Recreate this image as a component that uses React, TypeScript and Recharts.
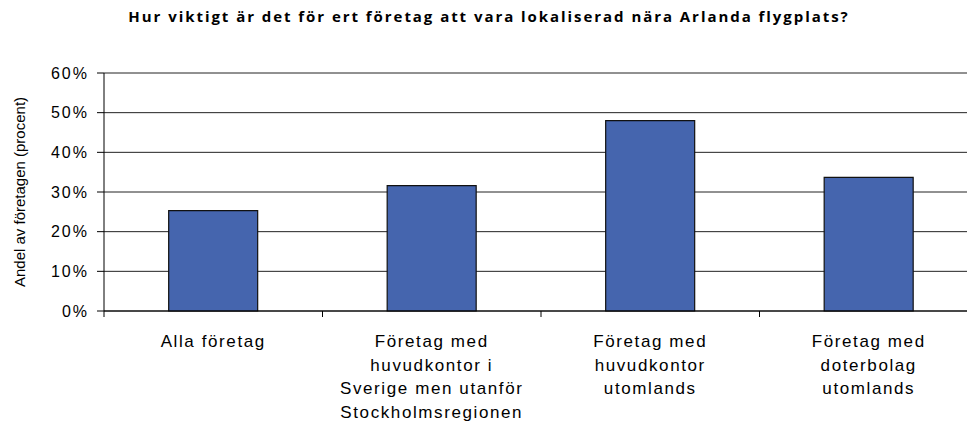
import React from "react";
import { BarChart, Bar, XAxis, YAxis, CartesianGrid } from "recharts";

const title = "Hur viktigt är det för ert företag att vara lokaliserad nära Arlanda flygplats?";
const yAxisTitle = "Andel av företagen (procent)";
const categories = [
  "Alla företag",
  "Företag med\nhuvudkontor i\nSverige men utanför\nStockholmsregionen",
  "Företag med\nhuvudkontor\nutomlands",
  "Företag med\ndoterbolag\nutomlands",
];
const shares = [25.3, 31.6, 48.0, 33.7];
const yTicks = [0, 10, 20, 30, 40, 50, 60];

const data = categories.map((c, i) => ({ category: c, share: shares[i] }));

const FONT = "'Liberation Sans', Arial, sans-serif";

const XTick = (props: any) => {
  const { x, y, payload } = props;
  const half = payload && typeof payload.offset === "number" && payload.offset > 0 ? payload.offset : 109.25;
  const lines = String(payload.value).split("\n");
  return (
    <g>
      <line x1={x - half} x2={x - half} y1={y} y2={y + 6} stroke="#000" strokeWidth={1} />
      <text
        x={x}
        y={y + 36}
        textAnchor="middle"
        fontFamily={FONT}
        fontSize={17}
        letterSpacing={1.6}
        fill="#000"
      >
        {lines.map((l, i) => (
          <tspan key={i} x={x} dy={i === 0 ? 0 : 23.5}>
            {l}
          </tspan>
        ))}
      </text>
    </g>
  );
};

const YLabel = (props: any) => {
  const vb = props.viewBox || { x: 0, y: 73, width: 104, height: 238 };
  const cx = vb.x + 19;
  const cy = vb.y + vb.height / 2;
  return (
    <text
      x={cx}
      y={cy}
      transform={`rotate(-90 ${cx} ${cy})`}
      textAnchor="middle"
      dominantBaseline="central"
      fontFamily={FONT}
      fontSize={15}
      fill="#000"
    >
      {yAxisTitle}
    </text>
  );
};

export default function App() {
  return (
    <div
      style={{
        position: "absolute",
        left: 0,
        top: 0,
        width: 967,
        height: 423,
        overflow: "hidden",
        background: "#fff",
      }}
    >
      <div
        style={{
          position: "absolute",
          left: 0,
          top: 8,
          width: 978,
          textAlign: "center",
          fontFamily: "'Open Sans', sans-serif",
          fontWeight: "bold",
          fontSize: 15,
          letterSpacing: 1.95,
          lineHeight: "17px",
          color: "#000",
          whiteSpace: "nowrap",
        }}
      >
        {title}
      </div>
      <BarChart
        width={1000}
        height={423}
        data={data}
        margin={{ top: 73, right: 22, left: 0, bottom: 0 }}
        barCategoryGap="29.6%"
      >
        <CartesianGrid vertical={false} stroke="#222" strokeWidth={1} />
        <XAxis
          dataKey="category"
          height={112}
          interval={0}
          tickSize={0}
          tickMargin={0}
          tickLine={false}
          axisLine={{ stroke: "#000", strokeWidth: 1 }}
          tick={<XTick />}
        />
        <YAxis
          width={104}
          domain={[0, 60]}
          ticks={yTicks}
          interval={0}
          tickFormatter={(v: number) => `${v}%`}
          tickSize={7}
          tickMargin={8}
          axisLine={{ stroke: "#000", strokeWidth: 1 }}
          tickLine={{ stroke: "#000", strokeWidth: 1 }}
          tick={{ fontFamily: FONT, fontSize: 16, fill: "#000", letterSpacing: 2 }}
          label={<YLabel />}
        />
        <Bar dataKey="share" fill="#4565AE" stroke="#111" strokeWidth={1.2} isAnimationActive={false} />
      </BarChart>
    </div>
  );
}
